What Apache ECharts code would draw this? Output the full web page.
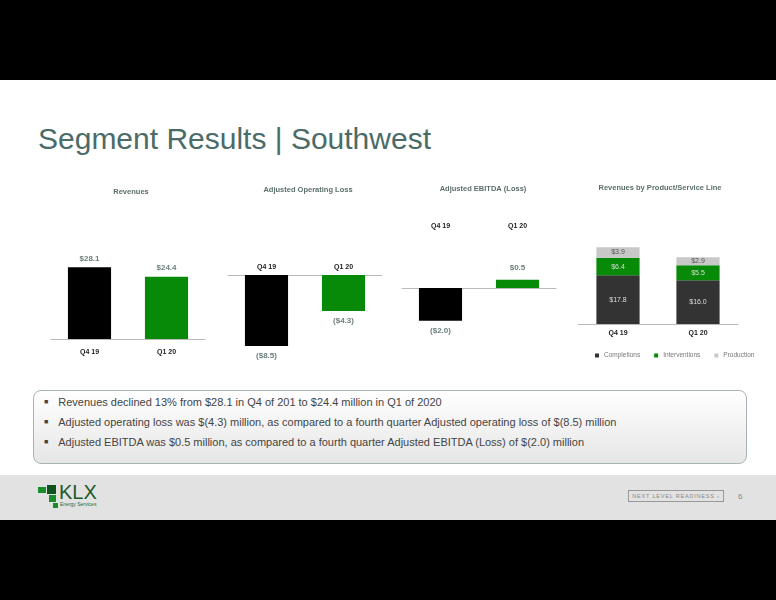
<!DOCTYPE html>
<html>
<head>
<meta charset="utf-8">
<script src="https://cdn.jsdelivr.net/npm/echarts@6/dist/echarts.min.js"></script>
<style>
body{margin:0;width:776px;height:600px;background:#000;font-family:Arial,"Liberation Sans",sans-serif;position:relative;overflow:hidden}
#page{position:absolute;left:0;top:80px;width:776px;height:395px;background:#fff}
#foot{position:absolute;left:0;top:475px;width:776px;height:45px;background:#e2e2e2}
#title{position:absolute;left:38px;top:122px;font-size:30px;color:#4b6b68}
#chart{position:absolute;left:0;top:0;width:776px;height:600px}
#box{position:absolute;left:33px;top:390px;width:712px;height:72px;border:1px solid #a8b4b0;border-radius:8px;background:linear-gradient(#fff,#e6e6e6)}
#box div{font-size:11px;color:#444;position:absolute;left:10px}
#box span{font-size:7px;margin-right:10px;vertical-align:2px}
</style>
</head>
<body>
<div id="page"></div>
<div id="foot">
  <div style="position:absolute;left:38px;top:12px;width:8px;height:6px;background:#1b8c2a"></div>
  <div style="position:absolute;left:47px;top:10px;width:9px;height:9px;background:#10521e"></div>
  <div style="position:absolute;left:49px;top:20px;width:7px;height:7px;background:#1b8c2a"></div>
  <div style="position:absolute;left:53px;top:28px;width:5px;height:5px;background:#1b8c2a"></div>
  <div style="position:absolute;left:59px;top:6px;font-size:20px;color:#1d5a2a">KLX</div>
  <div style="position:absolute;left:60px;top:26px;font-size:5px;color:#2a6a3a">Energy Services</div>
  <div style="position:absolute;left:628px;top:15px;width:94px;height:10px;border:1px solid #999;font-size:5.5px;color:#888;text-align:center;line-height:10px;letter-spacing:0.8px;white-space:nowrap;overflow:hidden">NEXT LEVEL READINESS ›</div>
  <div style="position:absolute;left:738px;top:17px;font-size:8px;color:#888">6</div>
</div>
<div id="title">Segment Results | Southwest</div>
<div id="box">
  <div style="top:5px"><span>■</span>Revenues declined 13% from $28.1 in Q4 of 201 to $24.4 million in Q1 of 2020</div>
  <div style="top:25px"><span>■</span>Adjusted operating loss was $(4.3) million, as compared to a fourth quarter Adjusted operating loss of $(8.5) million</div>
  <div style="top:45px"><span>■</span>Adjusted EBITDA was $0.5 million, as compared to a fourth quarter Adjusted EBITDA (Loss) of $(2.0) million</div>
</div>
<div id="chart"></div>
<script>
// data
var quarters = ['Q4 19', 'Q1 20'];
var revenues = [28.1, 24.4];
var opLoss = [-8.5, -4.3];
var ebitda = [-2.0, 0.5];
var completions = [17.8, 16.0];
var interventions = [6.4, 5.5];
var production = [3.9, 2.9];

var BLACK = '#000', GREEN = '#078a07', DARK = '#333333', LIGHT = '#c8c8c8';
var LBL = '#6b807d';

function money(v) {
    return v < 0 ? '($' + (-v).toFixed(1) + ')' : '$' + v.toFixed(1);
}
function colored(arr, withPos) {
    return arr.map(function (v, i) {
        var d = {value: v, itemStyle: {color: i === 0 ? BLACK : GREEN}};
        if (withPos) d.label = {position: v < 0 ? 'bottom' : 'top', distance: v < 0 ? 6 : 8};
        return d;
    });
}

var grids = [
    {left: 51, width: 154, top: 237, height: 102},
    {left: 228, width: 154, top: 275, height: 83.5},
    {left: 402, width: 154, top: 271.5, height: 57.5},
    {left: 578, width: 160, top: 242, height: 82}
];

function xAx(i, pos, off, showLine, showLabel, margin) {
    return {
        type: 'category', gridIndex: i, data: quarters, position: pos, offset: off || 0,
        axisLine: {show: showLine, onZero: showLabel ? false : true, lineStyle: {color: '#bbb'}},
        axisTick: {show: false},
        axisLabel: {show: showLabel, color: '#222', fontSize: 7, fontWeight: 'bold', margin: margin || 4}
    };
}
function yAx(i, min, max) {
    return {type: 'value', gridIndex: i, min: min, max: max, show: false};
}
function lbl(color, size, bold) {
    return {show: true, fontSize: size, color: color, fontWeight: bold ? 'bold' : 'normal',
        formatter: function (p) { return money(p.value); }};
}

var chart = echarts.init(document.getElementById('chart'));
chart.setOption({
    animation: false,
    title: [
        {text: 'Revenues', left: 126, top: 183, textAlign: 'center'},
        {text: 'Adjusted Operating Loss', left: 303, top: 181, textAlign: 'center'},
        {text: 'Adjusted EBITDA (Loss)', left: 478, top: 180, textAlign: 'center'},
        {text: 'Revenues by Product/Service Line', left: 655, top: 179, textAlign: 'center'}
    ].map(function (t) {
        t.textStyle = {fontSize: 7.5, color: '#5b6f6c', fontWeight: 'bold'};
        return t;
    }),
    grid: grids,
    xAxis: [
        xAx(0, 'bottom', 0, true, true, 10),
        xAx(1, 'top', 0, true, true),
        xAx(2, 'top', 38, false, true),
        xAx(3, 'bottom', 0, true, true, 6),
        xAx(2, 'bottom', 0, true, false)
    ],
    yAxis: [yAx(0, 0, 40), yAx(1, -10, 0), yAx(2, -2.5, 1), yAx(3, 0, 30)],
    legend: {
        left: 590, top: 347, itemWidth: 4, itemHeight: 4, itemGap: 14, icon: 'rect',
        textStyle: {fontSize: 6.5, color: '#777'},
        data: ['Completions', 'Interventions', 'Production']
    },
    series: [
        {type: 'bar', xAxisIndex: 0, yAxisIndex: 0, barWidth: '56%', data: colored(revenues),
            label: Object.assign(lbl(LBL, 8, true), {position: 'top'})},
        {type: 'bar', xAxisIndex: 1, yAxisIndex: 1, barWidth: '56%', data: colored(opLoss),
            label: Object.assign(lbl(LBL, 8, true), {position: 'bottom', distance: 6})},
        {type: 'bar', xAxisIndex: 4, yAxisIndex: 2, barWidth: '56%', data: colored(ebitda, true),
            label: lbl(LBL, 8, true)},
        {name: 'Completions', type: 'bar', stack: 's', xAxisIndex: 3, yAxisIndex: 3, barWidth: '54%',
            itemStyle: {color: DARK}, data: completions, label: lbl('#ddd', 7)},
        {name: 'Interventions', type: 'bar', stack: 's', xAxisIndex: 3, yAxisIndex: 3,
            itemStyle: {color: GREEN}, data: interventions, label: lbl('#ddd', 7)},
        {name: 'Production', type: 'bar', stack: 's', xAxisIndex: 3, yAxisIndex: 3,
            itemStyle: {color: LIGHT}, data: production, label: lbl('#555', 7)}
    ]
});
</script>
</body>
</html>
